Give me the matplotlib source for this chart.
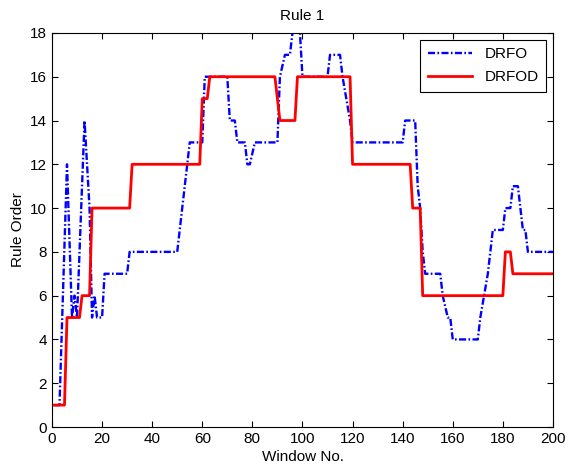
import numpy as np
import matplotlib.pyplot as plt

plt.rcParams['font.family'] = ['Liberation Sans', 'DejaVu Sans']

# DRFO (blue dash-dot), vertices of the polyline
drfo_x = [1, 3, 6, 8, 9, 10, 13, 14, 15, 16, 17, 18, 20, 21, 30, 31, 50, 55, 60, 61,
          70, 71, 73, 74, 77, 78, 79, 81, 90, 91, 93, 95, 96, 97, 98, 99, 100, 110, 111,
          115, 116, 119, 120, 140, 141, 145, 146, 147, 148, 149, 155, 156, 158, 159, 160,
          170, 171, 174, 176, 180, 181, 183, 184, 186, 188, 189, 190, 200]
drfo_y = [1, 1, 12, 5, 6, 5, 14, 12, 10, 5, 6, 5, 5, 7, 7, 8, 8, 13, 13, 16,
          16, 14, 14, 13, 13, 12, 12, 13, 13, 16, 17, 17, 18, 19, 19, 18, 16, 16, 17,
          17, 16, 14, 13, 13, 14, 14, 11, 10, 8, 7, 7, 6, 5, 5, 4,
          4, 5, 7, 9, 9, 10, 10, 11, 11, 9, 9, 8, 8]

# DRFOD (red solid)
drfod_x = [1, 5, 6, 11, 12, 15, 16, 31, 32, 59, 60, 62, 63, 89, 91, 97, 98, 119, 120,
           143, 144, 147, 148, 180, 181, 183, 184, 200]
drfod_y = [1, 1, 5, 5, 6, 6, 10, 10, 12, 12, 15, 15, 16, 16, 14, 14, 16, 16, 12,
           12, 10, 10, 6, 6, 8, 8, 7, 7]

fig = plt.figure(figsize=(5.68, 4.68), dpi=100)
ax = fig.add_axes([0.0915, 0.0876, 0.882, 0.842])

ax.plot(drfo_x, drfo_y, color='#0000ff', lw=1.7, dashes=(3, 1, 0.7, 1), label='DRFO')
ax.plot(drfod_x, drfod_y, '-', color='#ff0000', lw=2.0, label='DRFOD')

ax.set_xlim(0, 200)
ax.set_ylim(0, 18)
ax.set_xticks(np.arange(0, 201, 20))
ax.set_yticks(np.arange(0, 19, 2))
ax.tick_params(direction='in', top=True, right=True, labelsize=11, length=4)
ax.set_title('Rule 1', fontsize=11, pad=9)
ax.set_xlabel('Window No.', fontsize=11, labelpad=3)
ax.set_ylabel('Rule Order', fontsize=11)

leg = ax.legend(loc='upper right', fontsize=11, fancybox=False, framealpha=1,
                edgecolor='black', handlelength=2.9, labelspacing=0.55,
                borderpad=0.5, borderaxespad=0.45)
leg.get_frame().set_linewidth(0.8)

fig.savefig('out.png', dpi=100)
